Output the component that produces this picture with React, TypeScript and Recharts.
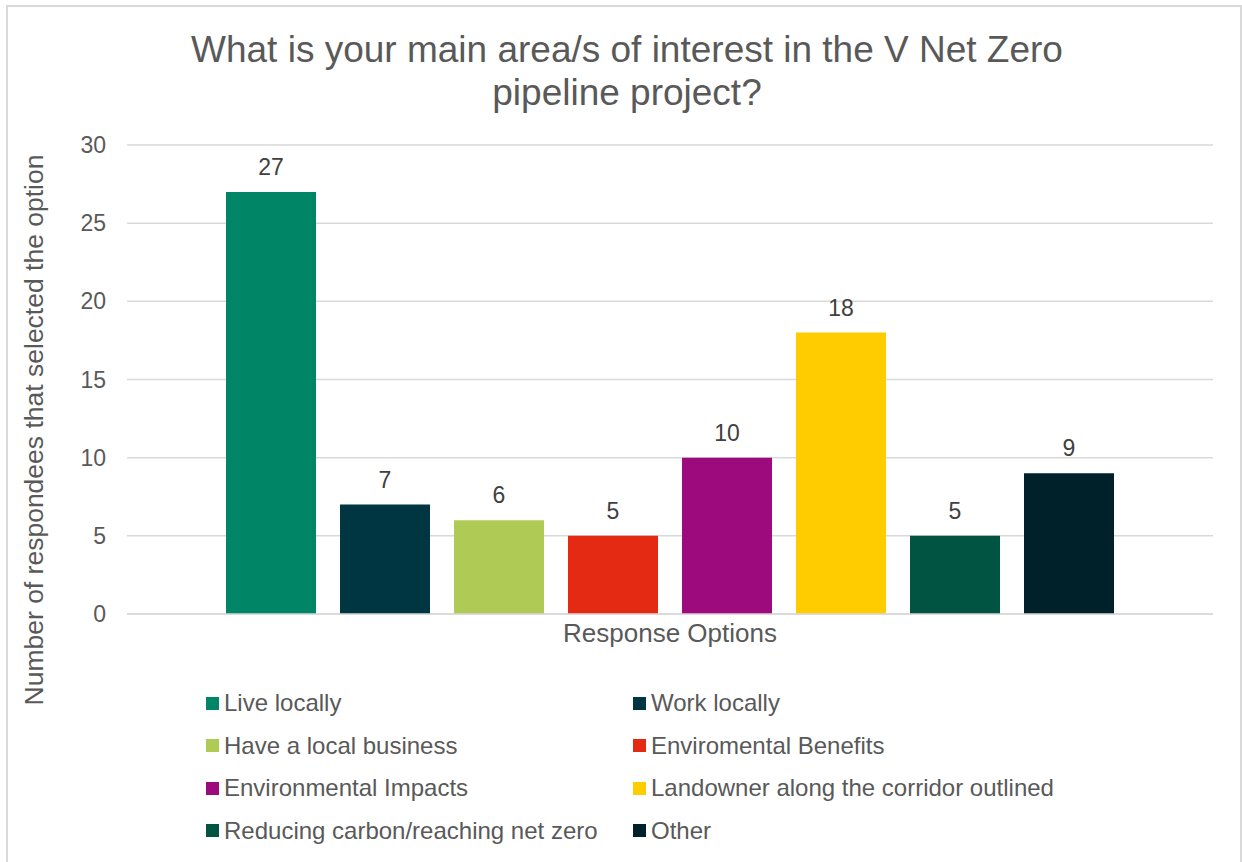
import React from 'react';
import { BarChart, Bar, XAxis, YAxis, CartesianGrid, LabelList, Legend } from 'recharts';

const categories = ['Response Options'];
const seriesNames = [
  'Live locally',
  'Work locally',
  'Have a local business',
  'Enviromental Benefits',
  'Environmental Impacts',
  'Landowner along the corridor outlined',
  'Reducing carbon/reaching net zero',
  'Other',
];
const seriesKeys = ['live', 'work', 'business', 'benefits', 'impacts', 'landowner', 'carbon', 'other'];
const seriesValues = [27, 7, 6, 5, 10, 18, 5, 9];
const seriesColors = ['#008567', '#003641', '#B0CB55', '#E52A14', '#9C0A7E', '#FFCC00', '#005441', '#00212A'];
const yTicks = [0, 5, 10, 15, 20, 25, 30];

const titleLines = ['What is your main area/s of interest in the V Net Zero', 'pipeline project?'];
const yAxisTitle = 'Number of respondees that selected the option';

const data = categories.map((c) => {
  const row: Record<string, string | number> = { name: c };
  seriesKeys.forEach((k, i) => {
    row[k] = seriesValues[i];
  });
  return row;
});

const FONT = '"Liberation Sans", Arial, Helvetica, sans-serif';
const TEXT = '#595959';

const YLabel = () => (
  <text
    x={34}
    y={430}
    transform="rotate(-90 34 430)"
    textAnchor="middle"
    dominantBaseline="central"
    fill={TEXT}
    fontSize={26.5}
    fontFamily={FONT}
  >
    {yAxisTitle}
  </text>
);

const LegendContent = () => (
  <div style={{ position: 'relative', width: 1242, height: 170, fontFamily: FONT }}>
    {seriesNames.map((n, i) => {
      const col = i % 2;
      const row = Math.floor(i / 2);
      return (
        <div
          key={n}
          style={{
            position: 'absolute',
            left: col === 0 ? 206 : 633,
            top: row * 42.5,
            height: 30,
            display: 'flex',
            alignItems: 'center',
            whiteSpace: 'nowrap',
          }}
        >
          <span style={{ display: 'inline-block', width: 13, height: 13, background: seriesColors[i], marginRight: 5 }} />
          <span style={{ fontSize: 24, color: TEXT, lineHeight: '30px' }}>{n}</span>
        </div>
      );
    })}
  </div>
);

export default function App() {
  return (
    <div style={{ position: 'absolute', left: 0, top: 0, width: 1242, height: 862, overflow: 'hidden', background: '#fff' }}>
      <div
        style={{
          position: 'absolute',
          left: 6,
          top: 5,
          width: 1236,
          height: 900,
          border: '2px solid #d9d9d9',
          boxSizing: 'border-box',
        }}
      />
      <svg style={{ position: 'absolute', left: 0, top: 0 }} width={1242} height={120}>
        {titleLines.map((t, i) => (
          <text key={i} x={627} y={62 + i * 43} textAnchor="middle" fill={TEXT} fontSize={37} fontFamily={FONT}>
            {t}
          </text>
        ))}
      </svg>
      <div style={{ position: 'absolute', left: 0, top: 0 }}>
        <BarChart
          width={1242}
          height={862}
          data={data}
          margin={{ top: 145, right: 29, left: 0, bottom: 218 }}
          barSize={90}
          barGap={24}
        >
          <CartesianGrid vertical={false} stroke="#d9d9d9" strokeWidth={1.5} />
          <XAxis
            dataKey="name"
            axisLine={{ stroke: '#d9d9d9', strokeWidth: 1.5 }}
            tickLine={false}
            tickMargin={4}
            tick={{ fill: TEXT, fontSize: 26, fontFamily: FONT }}
            height={30}
          />
          <YAxis
            width={127}
            domain={[0, 30]}
            ticks={yTicks}
            axisLine={false}
            tickLine={false}
            tickMargin={15}
            tick={{ fill: TEXT, fontSize: 23, fontFamily: FONT }}
            label={<YLabel />}
          />
          <Legend
            layout="horizontal"
            verticalAlign="middle"
            align="center"
            wrapperStyle={{ top: 688, left: 0, width: 1242 }}
            content={<LegendContent />}
          />
          {seriesKeys.map((k, i) => (
            <Bar key={k} dataKey={k} name={seriesNames[i]} fill={seriesColors[i]} isAnimationActive={false}>
              <LabelList dataKey={k} position="top" offset={17} fill="#404040" fontSize={23} fontFamily={FONT} />
            </Bar>
          ))}
        </BarChart>
      </div>
    </div>
  );
}
